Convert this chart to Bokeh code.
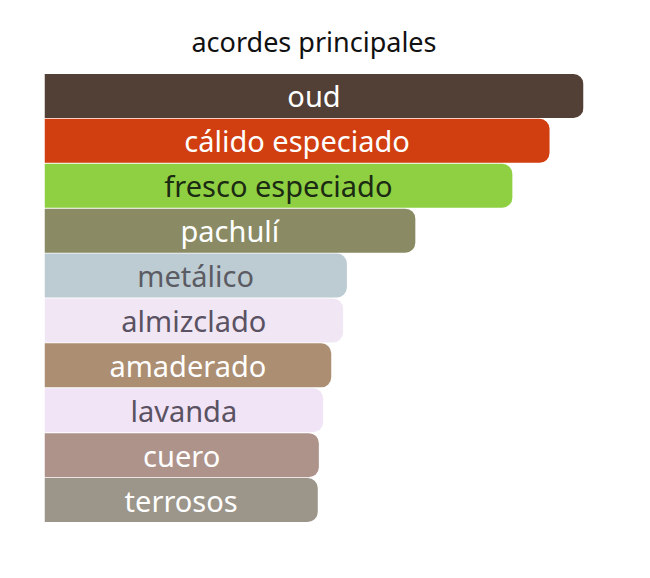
from bokeh.core.properties import value
from bokeh.embed import file_html
from bokeh.models import ColumnDataSource, FactorRange, Range1d, Title
from bokeh.plotting import figure
from bokeh.resources import INLINE

accords = ["oud", "cálido especiado", "fresco especiado", "pachulí", "metálico",
           "almizclado", "amaderado", "lavanda", "cuero", "terrosos"]
strengths = [100, 93.7, 86.8, 68.8, 56.1, 55.4, 53.2, 51.7, 50.9, 50.7]
bar_colors = ["#523f35", "#d13e0f", "#8fd043", "#8a8b64", "#bdcbd3",
              "#f1e6f4", "#ac8e72", "#f1e4f6", "#ae938b", "#9c958a"]
label_colors = ["#ffffff", "#ffffff", "#1b2a12", "#ffffff", "#5b5b63",
                "#5a5262", "#ffffff", "#5a5262", "#ffffff", "#ffffff"]


def plot():
    source = ColumnDataSource(data=dict(
        accord=accords,
        strength=strengths,
        middle=[s / 2 for s in strengths],
        color=bar_colors,
        label_color=label_colors,
    ))

    p = figure(width=634, height=560,
               y_range=FactorRange(*reversed(accords)),
               x_range=Range1d(0, 100),
               output_backend="svg", toolbar_location=None,
               min_border_left=44, min_border_right=51,
               min_border_top=73, min_border_bottom=38)

    p.title = Title(text="acordes principales", align="center",
                    text_font="Noto Sans", text_font_size="27px",
                    text_font_style="normal", text_color="#111111",
                    standoff=27)

    p.hbar(y="accord", left=0, right="strength", height=0.98,
           fill_color="color", line_color=None, source=source,
           border_radius=(0, 10, 10, 0))

    p.text(x="middle", y="accord", text="accord", source=source,
           text_align="center", text_baseline="middle",
           text_color="label_color", text_font=value("Noto Sans"),
           text_font_size="29px")

    p.axis.visible = False
    p.grid.visible = False
    p.outline_line_color = None

    with open("out.html", "w") as f:
        f.write(file_html(p, INLINE))


plot()
